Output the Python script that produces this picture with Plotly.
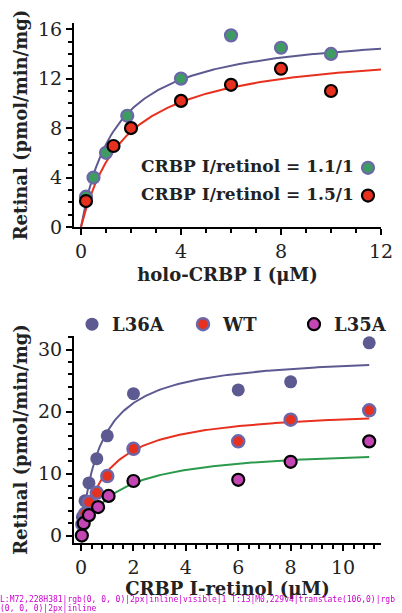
import numpy as np
import plotly.graph_objects as go

# ---------------- data: top panel (holo-CRBP I) ----------------
top_x_a = [0.2, 0.5, 1.0, 1.85, 4, 6, 8, 10]
top_y_a = [2.45, 4.0, 6.0, 9.0, 12.0, 15.5, 14.5, 14.0]      # CRBP I/retinol = 1.1/1
top_x_b = [0.2, 1.3, 2.0, 4, 6, 8, 10]
top_y_b = [2.1, 6.55, 8.0, 10.2, 11.5, 12.8, 11.0]           # CRBP I/retinol = 1.5/1
top_fit_a = (16.1, 1.4)    # Vmax, Km
top_fit_b = (14.66, 1.8)
top_labels = ["CRBP I/retinol = 1.1/1", "CRBP I/retinol = 1.5/1"]

# ---------------- data: bottom panel (CRBP I-retinol) ----------------
bot_x = [0.05, 0.15, 0.3, 0.6, 1, 2, 6, 8, 11]
l36a_y = [3.0, 5.6, 8.5, 12.4, 16.1, 22.9, 23.5, 24.8, 31.1]
wt_y = [1.8, 3.5, 5.4, 6.9, 9.6, 14.0, 15.2, 18.7, 20.2]
l35a_x = [0.03, 0.1, 0.3, 0.65, 1.05, 2, 6, 8, 11]
l35a_y = [0.0, 2.0, 3.3, 4.6, 6.4, 8.8, 9.0, 11.9, 15.2]
fit_l36a = (29.4, 0.75)
fit_wt = (20.6, 1.0)
fit_l35a = (14.3, 1.4)
bot_names = ["L36A", "WT", "L35A"]

PURPLE = "#5d5a92"
PURPLE_OUT = "#6c67a8"
GREEN = "#3e9c63"
RED = "#e8301f"
MAGENTA = "#c445b4"
LINE_GREEN = "#2c9a4c"
FONT = "DejaVu Serif"


def mm(p, x):
    v, k = p
    x = np.asarray(x, dtype=float)
    return v * x / (k + x)


fig = go.Figure()

xt = np.linspace(0, 12, 200)
fig.add_trace(go.Scatter(x=xt, y=mm(top_fit_a, xt), mode="lines",
                         line=dict(color=PURPLE, width=2), showlegend=False,
                         xaxis="x", yaxis="y"))
fig.add_trace(go.Scatter(x=xt, y=mm(top_fit_b, xt), mode="lines",
                         line=dict(color=RED, width=2), showlegend=False,
                         xaxis="x", yaxis="y"))
fig.add_trace(go.Scatter(x=top_x_a, y=top_y_a, mode="markers", name=" ",
                         marker=dict(size=12, color=GREEN, line=dict(color=PURPLE_OUT, width=2.2)),
                         xaxis="x", yaxis="y", legend="legend2"))
fig.add_trace(go.Scatter(x=top_x_b, y=top_y_b, mode="markers", name=" ",
                         marker=dict(size=12, color=RED, line=dict(color="black", width=2.2)),
                         xaxis="x", yaxis="y", legend="legend2"))

xb = np.linspace(0, 11, 200)
fig.add_trace(go.Scatter(x=xb, y=mm(fit_l36a, xb), mode="lines",
                         line=dict(color=PURPLE, width=2), showlegend=False,
                         xaxis="x2", yaxis="y2"))
fig.add_trace(go.Scatter(x=xb, y=mm(fit_wt, xb), mode="lines",
                         line=dict(color=RED, width=2), showlegend=False,
                         xaxis="x2", yaxis="y2"))
fig.add_trace(go.Scatter(x=xb, y=mm(fit_l35a, xb), mode="lines",
                         line=dict(color=LINE_GREEN, width=2), showlegend=False,
                         xaxis="x2", yaxis="y2"))
fig.add_trace(go.Scatter(x=bot_x, y=l36a_y, mode="markers", name=bot_names[0],
                         marker=dict(size=13, color=PURPLE, line=dict(color=PURPLE, width=0)),
                         xaxis="x2", yaxis="y2"))
fig.add_trace(go.Scatter(x=bot_x, y=wt_y, mode="markers", name=bot_names[1],
                         marker=dict(size=12, color=RED, line=dict(color=PURPLE_OUT, width=2.5)),
                         xaxis="x2", yaxis="y2"))
fig.add_trace(go.Scatter(x=l35a_x, y=l35a_y, mode="markers", name=bot_names[2],
                         marker=dict(size=12, color=MAGENTA, line=dict(color="black", width=2.2)),
                         xaxis="x2", yaxis="y2"))

W, H = 402, 613


def px_x(p):
    return p / W


def px_y(p):
    return 1 - p / H


def axis(dtick, minor_dtick, rng, domain, anchor, title, standoff):
    return dict(
        domain=domain, range=rng, anchor=anchor, automargin=False,
        tickmode="linear", tick0=0, dtick=dtick,
        showline=True, linecolor="black", linewidth=2,
        ticks="outside", ticklen=6, tickwidth=2, tickcolor="black",
        showgrid=False, zeroline=False,
        tickfont=dict(family=FONT, size=19, color="#222"),
        minor=dict(dtick=minor_dtick, ticks="outside", ticklen=4, tickwidth=1.5,
                   tickcolor="black", showgrid=False),
        title=dict(text=title, standoff=standoff,
                   font=dict(family=FONT, size=18, color="#222", weight="bold")),
    )


fig.update_layout(
    template="simple_white",
    width=W, height=H, margin=dict(l=0, r=0, t=0, b=0, autoexpand=False),
    xaxis=axis(4, 1, [-0.28, 12.0], [px_x(74), px_x(381)], "y", "holo-CRBP I (μM)", 8),
    yaxis=axis(4, 1, [0, 16.5], [px_y(227), px_y(23)], "x", "Retinal (pmol/min/mg)", 6),
    xaxis2=axis(2, 0.4, [-0.27, 11.45], [px_x(74), px_x(381)], "y2", "CRBP I-retinol (μM)", 4),
    yaxis2=axis(10, 2, [-1.2, 32.2], [px_y(543), px_y(336)], "x2", "Retinal (pmol/min/mg)", 6),
    legend=dict(orientation="h", x=px_x(72), xanchor="left", y=px_y(306), yanchor="top",
                font=dict(family=FONT, size=18, color="#222", weight="bold"),
                entrywidth=66, entrywidthmode="pixels",
                bgcolor="rgba(0,0,0,0)", traceorder="normal", itemsizing="trace"),
    legend2=dict(orientation="v", x=px_x(348), xanchor="left", y=px_y(149), yanchor="top",
                 font=dict(family=FONT, size=19, color="#222"),
                 bgcolor="rgba(0,0,0,0)", traceorder="normal", itemsizing="trace"),
    annotations=[
        dict(text=top_labels[0], xref="paper", yref="paper", x=px_x(356), y=px_y(166),
             xanchor="right", yanchor="middle", showarrow=False,
             font=dict(family=FONT, size=17, color="#222", weight="bold")),
        dict(text=top_labels[1], xref="paper", yref="paper", x=px_x(356), y=px_y(194),
             xanchor="right", yanchor="middle", showarrow=False,
             font=dict(family=FONT, size=17, color="#222", weight="bold")),
    ],
)

diag_js = """
document.body.style.margin='0';
setTimeout(function(){
  try {
    var p = document.querySelector('path.xlines-above');
    var t = document.querySelectorAll('path.xtick');
    var cs = p ? getComputedStyle(p) : null;
    var info = 'L:' + (p ? (p.getAttribute('d') + '|' + cs.stroke + '|' + cs.strokeWidth + '|' + cs.display + '|' + cs.visibility + '|' + cs.opacity) : 'none');
    info += ' T:' + t.length;
    if (t.length) { var c2 = getComputedStyle(t[0]); info += '|' + t[0].getAttribute('d') + '|' + t[0].getAttribute('transform') + '|' + c2.stroke + '|' + c2.strokeWidth + '|' + c2.display; }
    var d = document.createElement('div');
    d.textContent = info;
    d.style.cssText = 'position:fixed;left:0;bottom:0;font:8px monospace;color:#c0c;width:402px;word-break:break-all;z-index:9999';
    document.body.appendChild(d);
  } catch(e) {}
}, 300);
"""

fig.write_html("out.html", config={"displayModeBar": False}, post_script=diag_js)
